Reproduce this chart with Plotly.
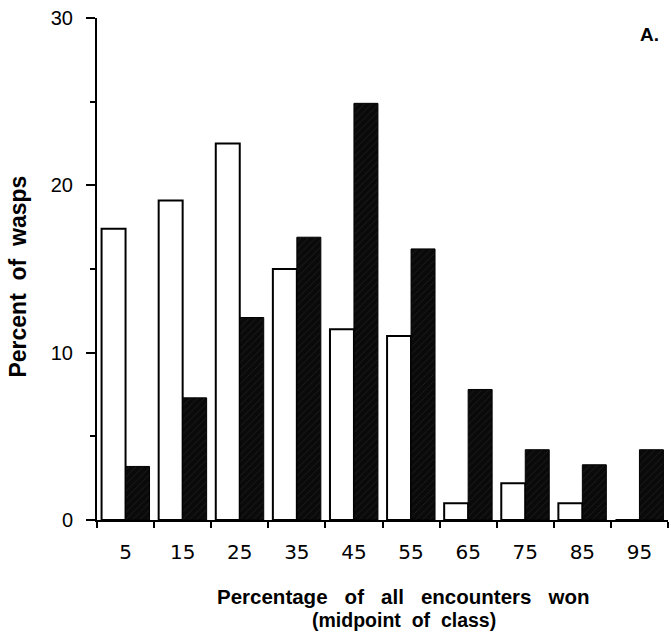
import plotly.graph_objects as go

classes = [5, 15, 25, 35, 45, 55, 65, 75, 85, 95]
white_vals = [17.4, 19.1, 22.5, 15.0, 11.4, 11.0, 1.0, 2.2, 1.0, 0.0]
dark_vals = [3.2, 7.3, 12.1, 16.9, 24.9, 16.2, 7.8, 4.2, 3.3, 4.2]
y_ticks = [0, 10, 20, 30]

fig = go.Figure()
fig.add_trace(go.Bar(
    x=classes, y=white_vals, marker=dict(color="white", line=dict(color="black", width=2)),
    showlegend=False,
))
fig.add_trace(go.Bar(
    x=classes, y=dark_vals,
    marker=dict(color="#0a0a0a", line=dict(color="black", width=1),
                pattern=dict(shape="/", fgcolor="#3a3a3a", bgcolor="#0a0a0a", size=5, solidity=0.15)),
    showlegend=False,
))

sp = "&nbsp;&nbsp; "
sp2 = "&nbsp; "

fig.update_layout(
    width=671, height=634,
    margin=dict(l=97, r=3, t=18, b=114),
    paper_bgcolor="white", plot_bgcolor="white",
    barmode="group", bargap=0.16, bargroupgap=0,
    font=dict(family="Liberation Sans, Arial, sans-serif", color="black"),
    xaxis=dict(
        range=[0, 100], tickvals=classes, ticktext=[str(c) for c in classes],
        ticks="", showgrid=False, zeroline=False,
        showline=True, linecolor="black", linewidth=2,
        tickfont=dict(size=20, family="DejaVu Sans, sans-serif"),
        ticklabelstandoff=13,
        minor=dict(tick0=0, dtick=10, ticks="outside", ticklen=6, tickwidth=2, tickcolor="black", showgrid=False),
    ),
    yaxis=dict(
        range=[0, 30], tickvals=y_ticks, ticks="outside", ticklen=9, tickwidth=2, tickcolor="black",
        showgrid=False, zeroline=False, showline=True, linecolor="black", linewidth=2,
        tickfont=dict(size=20), ticklabelstandoff=9,
        minor=dict(tick0=0, dtick=5, ticks="outside", ticklen=5, tickwidth=2, tickcolor="black", showgrid=False),
    ),
    annotations=[
        dict(text="<b>Percentage" + sp + "of" + sp + "all" + sp + "encounters" + sp + "won</b>",
             xref="paper", yref="paper",
             x=0.536, y=-0.153, xanchor="center", yanchor="middle", showarrow=False,
             font=dict(size=20.5)),
        dict(text="<b>(midpoint" + sp2 + "of" + sp2 + "class)</b>", xref="paper", yref="paper",
             x=0.538, y=-0.200, xanchor="center", yanchor="middle", showarrow=False,
             font=dict(size=19.5)),
        dict(text="<b>Percent" + sp2 + "of" + sp2 + "wasps</b>", xref="paper", yref="paper",
             x=-0.14, y=0.485, xanchor="center", yanchor="middle", showarrow=False,
             textangle=-90, font=dict(size=23)),
        dict(text="<b>A.</b>", xref="paper", yref="paper",
             x=0.968, y=0.968, xanchor="center", yanchor="middle", showarrow=False,
             font=dict(size=19)),
    ],
)

fig.write_html("out.html")
